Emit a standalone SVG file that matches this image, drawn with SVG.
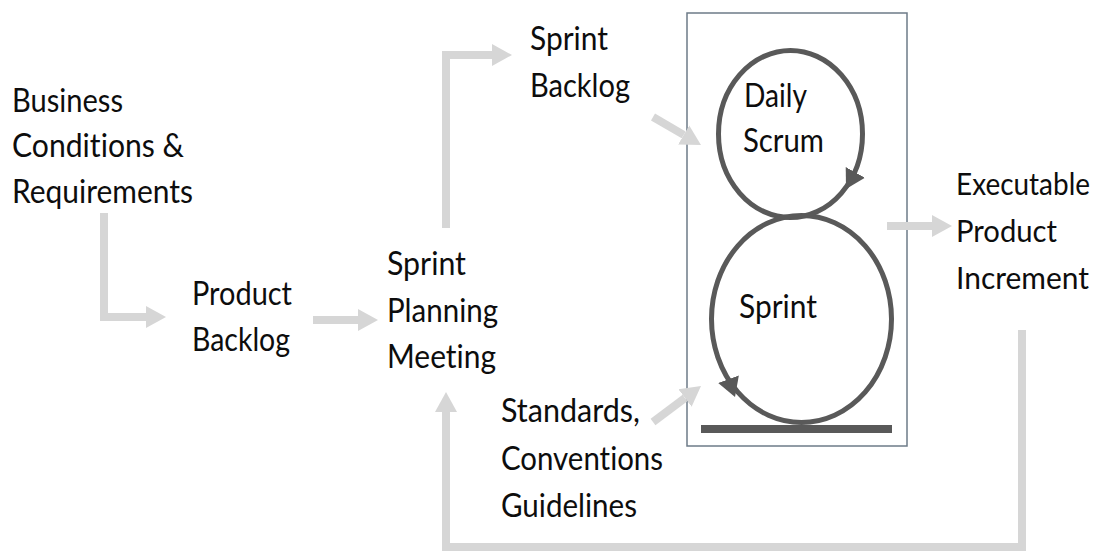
<svg xmlns="http://www.w3.org/2000/svg" width="1101" height="554" viewBox="0 0 1101 554">
  <style>
    .lbl { font-family: Lato, "Open Sans", "Liberation Sans", sans-serif; font-size: 32px; fill: #0d0d0d; font-variant-ligatures: none; font-feature-settings: "liga" 0; }
    .edge { font-size: 30.5px; }
    .flow { fill: none; stroke: #d6d6d6; stroke-width: 8; stroke-linejoin: miter; }
    .loop { fill: none; stroke: #595959; stroke-width: 5; }
    .tick { fill: none; stroke: none; }
  </style>
  <defs>
    <!-- wide grey head for the flow connectors; its base sits on the line end -->
    <marker id="flowHead" markerUnits="userSpaceOnUse" markerWidth="20" markerHeight="24" refX="0" refY="12" orient="auto">
      <path d="M0,1 L20,12 L0,23 Z" fill="#d6d6d6"/>
    </marker>
    <!-- dark head showing the direction of each cycle -->
    <marker id="loopHead" markerUnits="userSpaceOnUse" markerWidth="19" markerHeight="22" refX="19" refY="11" orient="auto">
      <path d="M0,0 L19,11 L0,22 Z" fill="#595959"/>
    </marker>
  </defs>

  <rect width="1101" height="554" fill="#ffffff"/>

  <!-- iteration frame with the two cycles -->
  <g id="iteration">
    <rect x="687" y="13" width="220" height="433" fill="#ffffff" stroke="#6d7b88" stroke-width="1.5"/>
    <rect x="701" y="425" width="191" height="8" fill="#595959"/>
  </g>
  <g id="daily-scrum">
    <ellipse class="loop" cx="790.5" cy="134" rx="72" ry="83.5"/>
    <path class="tick" d="M855,173 L846,189" marker-end="url(#loopHead)"/>
    <text class="lbl" x="744" y="107" textLength="63" lengthAdjust="spacingAndGlyphs">Daily</text>
    <text class="lbl" x="743" y="152" textLength="81" lengthAdjust="spacingAndGlyphs">Scrum</text>
  </g>
  <g id="sprint">
    <ellipse class="loop" cx="801.5" cy="319" rx="90" ry="103.5"/>
    <path class="tick" d="M727,375 L735,397" marker-end="url(#loopHead)"/>
    <text class="lbl" x="739" y="318" textLength="78" lengthAdjust="spacingAndGlyphs">Sprint</text>
  </g>

  <g id="business-conditions">
    <text class="lbl" x="12" y="112" textLength="111" lengthAdjust="spacingAndGlyphs">Business</text>
    <text class="lbl" x="12" y="157" textLength="172" lengthAdjust="spacingAndGlyphs">Conditions &amp;</text>
    <text class="lbl" x="12" y="203" textLength="181" lengthAdjust="spacingAndGlyphs">Requirements</text>
  </g>
  <g id="product-backlog">
    <text class="lbl" x="192" y="305" textLength="100" lengthAdjust="spacingAndGlyphs">Product</text>
    <text class="lbl" x="192" y="351" textLength="98" lengthAdjust="spacingAndGlyphs">Backlog</text>
  </g>
  <g id="sprint-planning">
    <text class="lbl" x="387" y="275" textLength="79" lengthAdjust="spacingAndGlyphs">Sprint</text>
    <text class="lbl" x="387" y="322" textLength="111" lengthAdjust="spacingAndGlyphs">Planning</text>
    <text class="lbl" x="387" y="368" textLength="109" lengthAdjust="spacingAndGlyphs">Meeting</text>
  </g>
  <g id="sprint-backlog">
    <text class="lbl" x="530" y="50" textLength="78" lengthAdjust="spacingAndGlyphs">Sprint</text>
    <text class="lbl" x="530" y="97" textLength="100" lengthAdjust="spacingAndGlyphs">Backlog</text>
  </g>
  <g id="standards">
    <text class="lbl" x="501" y="422" textLength="139" lengthAdjust="spacingAndGlyphs">Standards,</text>
    <text class="lbl" x="501" y="470" textLength="162" lengthAdjust="spacingAndGlyphs">Conventions</text>
    <text class="lbl" x="501" y="517" textLength="136" lengthAdjust="spacingAndGlyphs">Guidelines</text>
  </g>
  <g id="product-increment">
    <text class="lbl edge" x="956" y="195" textLength="134" lengthAdjust="spacingAndGlyphs">Executable</text>
    <text class="lbl edge" x="956" y="242" textLength="101" lengthAdjust="spacingAndGlyphs">Product</text>
    <text class="lbl edge" x="956" y="289" textLength="133" lengthAdjust="spacingAndGlyphs">Increment</text>
  </g>

  <g id="connectors">
    <path class="flow" d="M104,213 V317 H146" marker-end="url(#flowHead)"/>
    <path class="flow" d="M313,320 H358" marker-end="url(#flowHead)"/>
    <path class="flow" d="M446,228 V55 H492" marker-end="url(#flowHead)"/>
    <path class="flow" d="M653,117 L683.7,134.9" marker-end="url(#flowHead)"/>
    <path class="flow" d="M653,422 L685,398" marker-end="url(#flowHead)"/>
    <path class="flow" d="M887,226 H932" marker-end="url(#flowHead)"/>
    <path class="flow" d="M1022,330 V547 H446 V412" marker-end="url(#flowHead)"/>
  </g>
</svg>
